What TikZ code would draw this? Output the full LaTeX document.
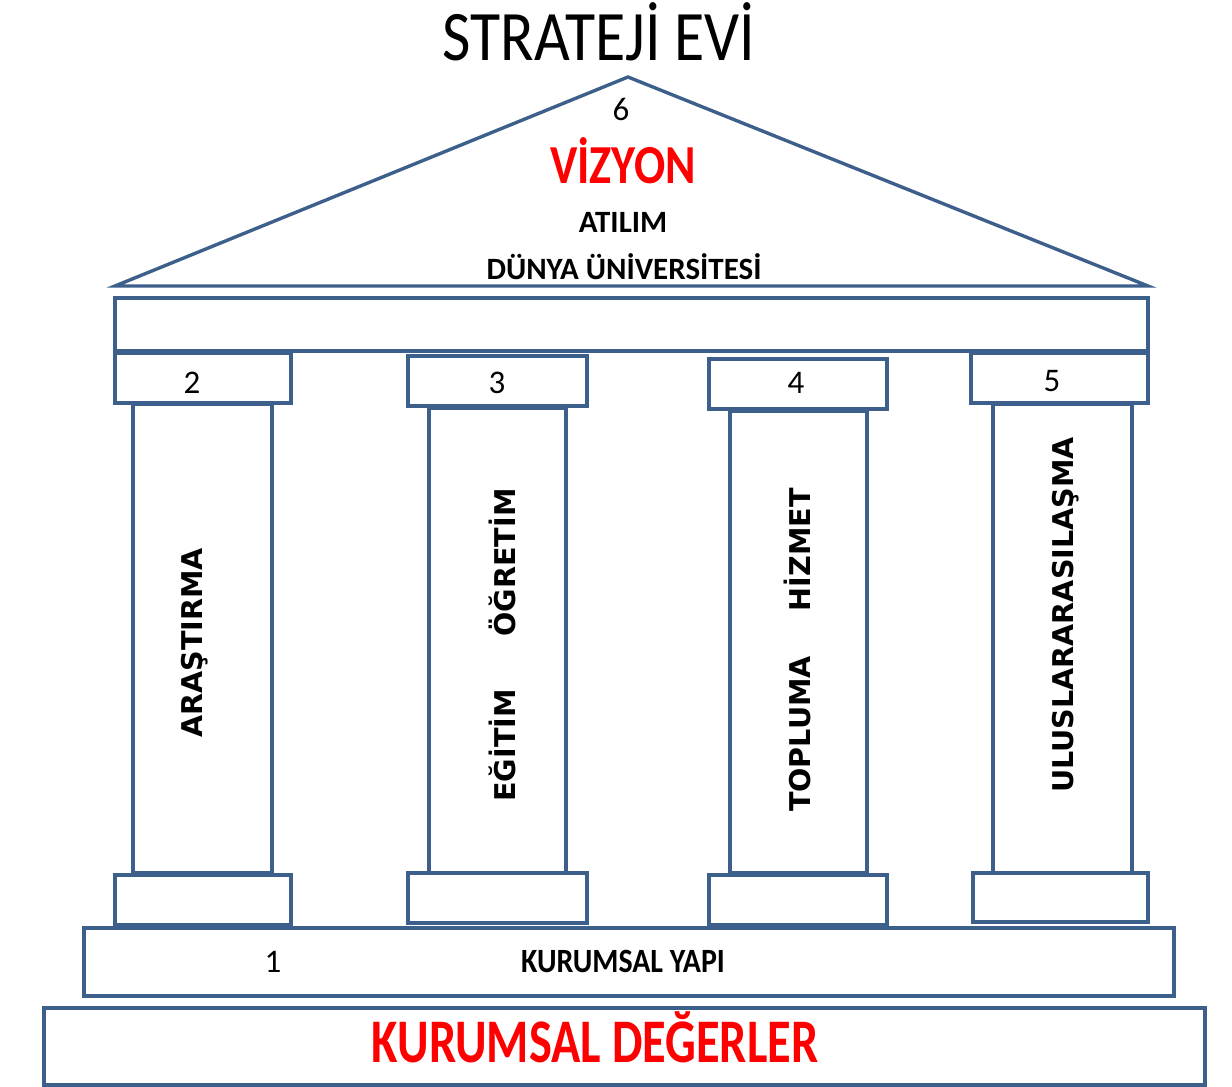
\documentclass[tikz,border=0pt]{standalone}
\usepackage{fontspec}
\setmainfont{Carlito}
\newfontfamily\colfont{DejaVu Sans}
\definecolor{housecol}{RGB}{60,95,140}
\definecolor{vred}{RGB}{255,0,0}
\begin{document}
\begin{tikzpicture}[x=1pt,y=-1pt,
  part/.style={draw=housecol,fill=white,line width=3.4pt},
  txt/.style={inner sep=0pt,anchor=base},
  coltxt/.style={inner sep=0pt,anchor=base,rotate=90,font=\colfont\bfseries\fontsize{28.6}{34}\selectfont},
  numtxt/.style={inner sep=0pt,anchor=base,font=\fontsize{33}{40}\selectfont}]
\useasboundingbox (0,0) rectangle (1232,1087);
% roof
\draw[part,line join=miter] (115,286) -- (628,77) -- (1148,286) -- cycle;
% beam
\draw[part] (115,298) rectangle (1148,351);
% capitals
\draw[part] (115,353) rectangle (291,403);
\draw[part] (408,356) rectangle (587,406);
\draw[part] (709,359) rectangle (887,409);
\draw[part] (971,353) rectangle (1148,403);
% shafts
\draw[part] (133,404) rectangle (272,873);
\draw[part] (429,408) rectangle (566,873);
\draw[part] (730,411) rectangle (867,873);
\draw[part] (993,404) rectangle (1132,873);
% bases
\draw[part] (115,875) rectangle (291,925);
\draw[part] (408,873) rectangle (587,923);
\draw[part] (709,875) rectangle (887,925);
\draw[part] (973,873) rectangle (1148,922);
% stylobate
\draw[part] (84,928) rectangle (1174,996);
% foundation
\draw[part] (44,1008) rectangle (1205,1085);
% texts
\node[txt,font=\fontsize{71}{84}\selectfont] (title) at (599,60) {\scalebox{0.87}[1]{STRATEJİ EVİ}};
\node[numtxt] (n6) at (621,120) {6};
\node[txt,text=vred,font=\bfseries\fontsize{55}{64}\selectfont] (viz) at (623,183) {\scalebox{0.84}[1]{VİZYON}};
\node[txt,font=\bfseries\fontsize{31}{37}\selectfont] (atilim) at (623,232) {ATILIM};
\node[txt,font=\bfseries\fontsize{31}{37}\selectfont] (dunya) at (624,279) {DÜNYA ÜNİVERSİTESİ};
\node[numtxt] (n2) at (192,393) {2};
\node[numtxt] (n3) at (497,393) {3};
\node[numtxt] (n4) at (796,393) {4};
\node[numtxt] (n5) at (1052,391) {5};
\node[coltxt] (c1) at (202,643) {ARAŞTIRMA};
\node[coltxt] (c2) at (515,645) {EĞİTİM\hspace{53pt}ÖĞRETİM};
\node[coltxt] (c3) at (810,650) {TOPLUMA\hspace{45pt}HİZMET};
\node[coltxt] (c4) at (1073,615) {ULUSLARARASILAŞMA};
\node[numtxt] (n1) at (273,972) {1};
\node[txt,font=\bfseries\fontsize{34}{40}\selectfont] (yapi) at (623,972) {\scalebox{0.88}[1]{KURUMSAL YAPI}};
\node[txt,text=vred,font=\bfseries\fontsize{62}{74}\selectfont] (deg) at (595,1062) {\scalebox{0.78}[1]{KURUMSAL DEĞERLER}};
\end{tikzpicture}
\end{document}
